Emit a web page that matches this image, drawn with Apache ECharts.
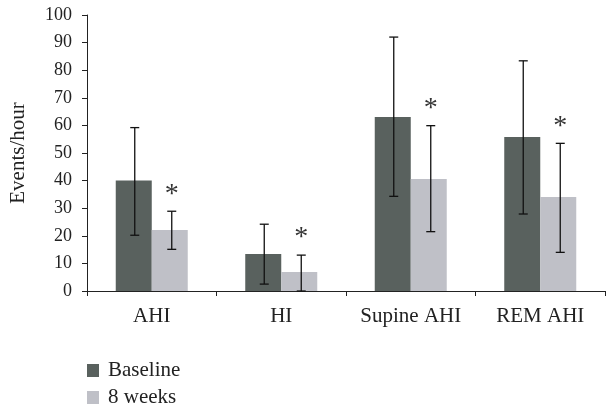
<!DOCTYPE html>
<html><head><meta charset="utf-8">
<script src="https://cdn.jsdelivr.net/npm/echarts@6/dist/echarts.min.js"></script>
<style>html,body{margin:0;padding:0;background:#fff}#c{width:610px;height:408px}</style>
</head><body><div id="c"></div>
<script>
const categories = ['AHI', 'HI', 'Supine AHI', 'REM AHI'];
const baseline = [40, 13.4, 63, 55.8];
const baselineLow = [20.2, 2.5, 34.3, 27.9];
const baselineHigh = [59.2, 24.2, 92, 83.4];
const weeks8 = [22.1, 6.9, 40.6, 34.1];
const weeks8Low = [15.1, 0, 21.5, 14];
const weeks8High = [28.9, 13, 59.9, 53.5];
const yTicks = [0, 10, 20, 30, 40, 50, 60, 70, 80, 90, 100];

const FONT = 'Liberation Serif';
const BAR_W = 36;

function errSeries(name, low, high, offset, star) {
  return {
    type: 'custom', name: name + ' err', z: 10, silent: true,
    data: categories.map((c, i) => [i, low[i], high[i]]),
    renderItem: function (params, api) {
      const i = api.value(0);
      const pLow = api.coord([i, api.value(1)]);
      const pHigh = api.coord([i, api.value(2)]);
      const x = pLow[0] + offset;
      const cap = 4.5;
      const st = { stroke: '#111', lineWidth: 1.3 };
      const children = [
        { type: 'line', shape: { x1: x, y1: pHigh[1], x2: x, y2: pLow[1] }, style: st },
        { type: 'line', shape: { x1: x - cap, y1: pHigh[1], x2: x + cap, y2: pHigh[1] }, style: st },
        { type: 'line', shape: { x1: x - cap, y1: pLow[1], x2: x + cap, y2: pLow[1] }, style: st }
      ];
      if (star) {
        children.push({ type: 'text', style: { text: '*', x: x, y: pHigh[1] - 3, align: 'center', verticalAlign: 'bottom', font: '28px "' + FONT + '"', fill: '#333' } });
      }
      return { type: 'group', children: children };
    }
  };
}

const chart = echarts.init(document.getElementById('c'));
chart.setOption({
  animation: false,
  textStyle: { fontFamily: FONT },
  grid: { left: 87, right: 5, top: 15, bottom: 117, containLabel: false, outerBoundsMode: 'none' },
  legend: {
    orient: 'vertical', left: 87, top: 360, padding: 0, itemWidth: 12, itemHeight: 13, itemGap: 6,
    icon: 'rect', itemStyle: { borderWidth: 0 },
    data: ['Baseline', '8 weeks'],
    textStyle: { fontFamily: FONT, fontSize: 21, lineHeight: 21, color: '#222', padding: [0, 0, 0, 4] }
  },
  xAxis: {
    type: 'category', data: categories,
    axisLine: { lineStyle: { color: '#222', width: 1 } },
    axisTick: { show: true, length: 5, lineStyle: { color: '#222' } },
    axisLabel: { fontFamily: FONT, fontSize: 21, color: '#222', margin: 15, interval: 0, hideOverlap: false },
    splitLine: { show: false }
  },
  yAxis: {
    type: 'value', min: yTicks[0], max: yTicks[yTicks.length - 1], interval: 10,
    name: 'Events/hour', nameLocation: 'middle', nameGap: 58, nameRotate: 90,
    nameTextStyle: { fontFamily: FONT, fontSize: 21, color: '#222' },
    axisLine: { show: true, lineStyle: { color: '#222', width: 1 } },
    axisTick: { show: true, length: 5, lineStyle: { color: '#222' } },
    axisLabel: { fontFamily: FONT, fontSize: 18, color: '#222', margin: 15 },
    splitLine: { show: false }
  },
  series: [
    { type: 'bar', name: 'Baseline', data: baseline, barWidth: BAR_W, barGap: '0%', itemStyle: { color: '#59615e' } },
    { type: 'bar', name: '8 weeks', data: weeks8, barWidth: BAR_W, barGap: '0%', itemStyle: { color: '#bfc0c7' } },
    errSeries('Baseline', baselineLow, baselineHigh, -BAR_W / 2 + 1, false),
    errSeries('8 weeks', weeks8Low, weeks8High, BAR_W / 2 + 2, true)
  ]
});
</script></body></html>
